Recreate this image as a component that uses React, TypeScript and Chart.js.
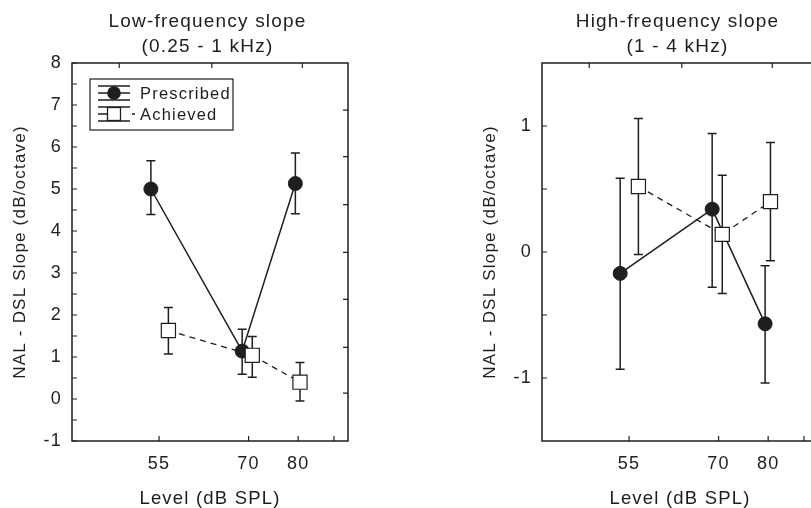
import React, { useEffect, useRef } from "react";
import { Chart, registerables } from "chart.js";

Chart.register(...registerables);

const FONT = "'Liberation Sans', Arial, Helvetica, sans-serif";
const INK = "#1e1e1e";

// ---- shared axis data ----
const LEVEL_TICKS = [55, 70, 80];
const X_MIN = 43.5;
const X_MAX = 91.5;
const X_TOP_MARKS = [49.4, 63.4, 80.9];
const X_BOTTOM_MARKS = [55, 70, 80, 88.1];

const LOW_TITLE = ["Low-frequency slope", "(0.25 - 1 kHz)"];
const HIGH_TITLE = ["High-frequency slope", "(1 - 4 kHz)"];
const X_TITLE = "Level (dB SPL)";
const Y_TITLE = "NAL - DSL Slope (dB/octave)";
const SERIES_NAMES = ["Prescribed", "Achieved"];

// ---- low-frequency panel ----
const LOW_Y_TICKS = [-1, 0, 1, 2, 3, 4, 5, 6, 7, 8];
const LOW_Y_MINOR = [-0.5, 0.5, 1.5, 2.5, 3.5, 4.5, 5.5, 6.5, 7.5];
const LOW_Y_RIGHT_MARKS = [6.88, 5.77, 4.63, 3.49, 2.37, 1.23, 0.14];
const LOW_PRES_X = [53.8, 68.8, 79.4];
const LOW_PRES_Y = [5.0, 1.14, 5.13];
const LOW_PRES_HI = [5.67, 1.66, 5.86];
const LOW_PRES_LO = [4.39, 0.59, 4.41];
const LOW_ACH_X = [56.4, 70.7, 80.4];
const LOW_ACH_Y = [1.63, 1.04, 0.4];
const LOW_ACH_HI = [2.18, 1.49, 0.87];
const LOW_ACH_LO = [1.07, 0.52, -0.05];

// ---- high-frequency panel ----
const HIGH_Y_TICKS = [-1, 0, 1];
const HIGH_Y_MINOR = [-0.5, 0.5];
const HIGH_Y_RIGHT_MARKS: number[] = [];
const HIGH_PRES_X = [53.7, 68.8, 79.35];
const HIGH_PRES_Y = [-0.17, 0.34, -0.57];
const HIGH_PRES_HI = [0.585, 0.94, -0.11];
const HIGH_PRES_LO = [-0.93, -0.28, -1.04];
const HIGH_ACH_X = [56.4, 70.7, 80.5];
const HIGH_ACH_Y = [0.52, 0.14, 0.4];
const HIGH_ACH_HI = [1.06, 0.61, 0.87];
const HIGH_ACH_LO = [-0.02, -0.33, -0.07];

type Panel = {
  title: string[];
  yMin: number;
  yMax: number;
  yTicks: number[];
  yMinor: number[];
  yRight: number[];
  presX: number[];
  presY: number[];
  presHi: number[];
  presLo: number[];
  achX: number[];
  achY: number[];
  achHi: number[];
  achLo: number[];
  legend: boolean;
};

const LOW: Panel = {
  title: LOW_TITLE,
  yMin: -1,
  yMax: 8,
  yTicks: LOW_Y_TICKS,
  yMinor: LOW_Y_MINOR,
  yRight: LOW_Y_RIGHT_MARKS,
  presX: LOW_PRES_X,
  presY: LOW_PRES_Y,
  presHi: LOW_PRES_HI,
  presLo: LOW_PRES_LO,
  achX: LOW_ACH_X,
  achY: LOW_ACH_Y,
  achHi: LOW_ACH_HI,
  achLo: LOW_ACH_LO,
  legend: true,
};

const HIGH: Panel = {
  title: HIGH_TITLE,
  yMin: -1.5,
  yMax: 1.5,
  yTicks: HIGH_Y_TICKS,
  yMinor: HIGH_Y_MINOR,
  yRight: HIGH_Y_RIGHT_MARKS,
  presX: HIGH_PRES_X,
  presY: HIGH_PRES_Y,
  presHi: HIGH_PRES_HI,
  presLo: HIGH_PRES_LO,
  achX: HIGH_ACH_X,
  achY: HIGH_ACH_Y,
  achHi: HIGH_ACH_HI,
  achLo: HIGH_ACH_LO,
  legend: false,
};

const SPACING = "1.2px";

const spacingPlugin = {
  id: "letterSpacing",
  beforeLayout(chart: any) {
    chart.ctx.letterSpacing = SPACING;
  },
  beforeDraw(chart: any) {
    chart.ctx.letterSpacing = SPACING;
  },
};

function framePlugin(p: Panel) {
  return {
    id: "frameAndErrors",
    beforeDatasetsDraw(chart: any) {
      const { ctx, chartArea: a, scales } = chart;
      const xs = scales.x;
      const ys = scales.y;
      const T = 5;
      ctx.save();
      ctx.strokeStyle = INK;
      ctx.lineWidth = 1.5;
      ctx.strokeRect(a.left, a.top, a.right - a.left, a.bottom - a.top);
      ctx.lineWidth = 1.2;
      ctx.beginPath();
      X_BOTTOM_MARKS.forEach((v) => {
        const x = xs.getPixelForValue(v);
        ctx.moveTo(x, a.bottom);
        ctx.lineTo(x, a.bottom - T);
      });
      X_TOP_MARKS.forEach((v) => {
        const x = xs.getPixelForValue(v);
        ctx.moveTo(x, a.top);
        ctx.lineTo(x, a.top + T);
      });
      [...p.yTicks, ...p.yMinor].forEach((v) => {
        const y = ys.getPixelForValue(v);
        ctx.moveTo(a.left, y);
        ctx.lineTo(a.left + T, y);
      });
      p.yRight.forEach((v) => {
        const y = ys.getPixelForValue(v);
        ctx.moveTo(a.right, y);
        ctx.lineTo(a.right - T, y);
      });
      ctx.stroke();

      // error bars
      const cap = 4.5;
      ctx.lineWidth = 1.5;
      const series = [
        { xv: p.presX, hi: p.presHi, lo: p.presLo },
        { xv: p.achX, hi: p.achHi, lo: p.achLo },
      ];
      ctx.beginPath();
      series.forEach((s) => {
        s.xv.forEach((xv, i) => {
          const x = xs.getPixelForValue(xv);
          const yh = ys.getPixelForValue(s.hi[i]);
          const yl = ys.getPixelForValue(s.lo[i]);
          ctx.moveTo(x, yh);
          ctx.lineTo(x, yl);
          ctx.moveTo(x - cap, yh);
          ctx.lineTo(x + cap, yh);
          ctx.moveTo(x - cap, yl);
          ctx.lineTo(x + cap, yl);
        });
      });
      ctx.stroke();
      ctx.restore();
    },
  };
}

function legendPlugin(p: Panel) {
  return {
    id: "boxLegend",
    afterDraw(chart: any) {
      if (!p.legend) return;
      const { ctx, chartArea: a } = chart;
      const bx = a.left + 18;
      const by = a.top + 16;
      const bw = 143;
      const bh = 51;
      ctx.save();
      ctx.fillStyle = "#fff";
      ctx.fillRect(bx, by, bw, bh);
      ctx.strokeStyle = INK;
      ctx.lineWidth = 1.2;
      ctx.strokeRect(bx, by, bw, bh);

      const sx0 = bx + 8;
      const sx1 = bx + 40;
      const scx = (sx0 + sx1) / 2;
      const rows = [by + 14, by + 35];

      // Prescribed symbol
      let cy = rows[0];
      ctx.lineWidth = 1.3;
      ctx.beginPath();
      [cy - 7, cy, cy + 7].forEach((yy) => {
        ctx.moveTo(sx0, yy);
        ctx.lineTo(sx1, yy);
      });
      ctx.stroke();
      ctx.fillStyle = INK;
      ctx.beginPath();
      ctx.arc(scx, cy, 6.8, 0, Math.PI * 2);
      ctx.fill();

      // Achieved symbol
      cy = rows[1];
      ctx.beginPath();
      [cy - 7, cy + 7].forEach((yy) => {
        ctx.moveTo(sx0, yy);
        ctx.lineTo(sx1, yy);
      });
      ctx.moveTo(sx0, cy);
      ctx.lineTo(scx, cy);
      ctx.moveTo(sx1 + 2, cy);
      ctx.lineTo(sx1 + 5, cy);
      ctx.stroke();
      ctx.fillStyle = "#fff";
      ctx.fillRect(scx - 6.5, cy - 6.5, 13, 13);
      ctx.strokeRect(scx - 6.5, cy - 6.5, 13, 13);

      ctx.fillStyle = INK;
      ctx.font = `16.5px ${FONT}`;
      ctx.textAlign = "left";
      ctx.textBaseline = "middle";
      ctx.fillText(SERIES_NAMES[0], bx + 50, rows[0] + 1.5);
      ctx.fillText(SERIES_NAMES[1], bx + 50, rows[1] + 1.5);
      ctx.restore();
    },
  };
}

function buildConfig(p: Panel): any {
  return {
    type: "scatter",
    data: {
      datasets: [
        {
          label: SERIES_NAMES[1],
          data: p.achX.map((x, i) => ({ x, y: p.achY[i] })),
          showLine: true,
          borderColor: INK,
          borderWidth: 1.3,
          borderDash: [6, 5],
          pointStyle: "rect",
          pointRadius: 10,
          pointHoverRadius: 10,
          pointBackgroundColor: "#ffffff",
          pointBorderColor: INK,
          pointBorderWidth: 1.2,
          order: 0,
        },
        {
          label: SERIES_NAMES[0],
          data: p.presX.map((x, i) => ({ x, y: p.presY[i] })),
          showLine: true,
          borderColor: INK,
          borderWidth: 1.5,
          pointStyle: "circle",
          pointRadius: 7,
          pointHoverRadius: 7,
          pointBackgroundColor: INK,
          pointBorderColor: INK,
          pointBorderWidth: 1,
          order: 1,
        },
      ],
    },
    options: {
      animation: false,
      responsive: false,
      maintainAspectRatio: false,
      layout: { padding: 0 },
      plugins: {
        legend: { display: false },
        tooltip: { enabled: false },
        title: {
          display: true,
          text: p.title,
          color: INK,
          font: { family: FONT, size: 19, weight: "normal", lineHeight: 25 / 19 },
          padding: { top: 9.5, bottom: 3.5 },
        },
      },
      scales: {
        x: {
          type: "logarithmic",
          position: "bottom",
          min: X_MIN,
          max: X_MAX,
          afterBuildTicks: (s: any) => {
            s.ticks = LEVEL_TICKS.map((v) => ({ value: v }));
          },
          afterFit: (s: any) => {
            s.height = 67;
          },
          grid: { display: false, drawTicks: false },
          border: { display: false },
          ticks: {
            color: INK,
            font: { family: FONT, size: 18 },
            padding: 12,
            autoSkip: false,
            maxRotation: 0,
            callback: (v: any) => String(v),
          },
          title: {
            display: true,
            text: X_TITLE,
            color: INK,
            font: { family: FONT, size: 18.5, lineHeight: 1 },
            padding: { top: 0, bottom: -0.5 },
          },
        },
        y: {
          type: "linear",
          position: "left",
          min: p.yMin,
          max: p.yMax,
          afterBuildTicks: (s: any) => {
            s.ticks = p.yTicks.map((v) => ({ value: v }));
          },
          afterFit: (s: any) => {
            s.width = 72;
          },
          grid: { display: false, drawTicks: false },
          border: { display: false },
          ticks: {
            color: INK,
            font: { family: FONT, size: 18 },
            padding: 10,
            callback: (v: any) => String(v),
          },
          title: {
            display: true,
            text: Y_TITLE,
            color: INK,
            font: { family: FONT, size: 17, lineHeight: 1 },
            padding: { top: 11.5, bottom: 0 },
          },
        },
        yRight: {
          type: "linear",
          position: "right",
          min: p.yMin,
          max: p.yMax,
          afterFit: (s: any) => {
            s.width = 67;
          },
          grid: { display: false, drawTicks: false },
          border: { display: false },
          ticks: { display: false },
        },
      },
    },
    plugins: [spacingPlugin, framePlugin(p), legendPlugin(p)],
  };
}

function PanelChart({ panel, left }: { panel: Panel; left: number }) {
  const ref = useRef<HTMLCanvasElement>(null);
  useEffect(() => {
    if (!ref.current) return;
    const chart = new Chart(ref.current, buildConfig(panel));
    return () => chart.destroy();
  }, [panel]);
  return (
    <canvas
      ref={ref}
      width={415}
      height={508}
      style={{ position: "absolute", left, top: 0, width: 415, height: 508 }}
    />
  );
}

export default function App() {
  return (
    <div
      style={{
        position: "fixed",
        left: 0,
        top: 0,
        width: 811,
        height: 508,
        overflow: "hidden",
        background: "#ffffff",
      }}
    >
      <PanelChart panel={LOW} left={0} />
      <PanelChart panel={HIGH} left={470} />
    </div>
  );
}
